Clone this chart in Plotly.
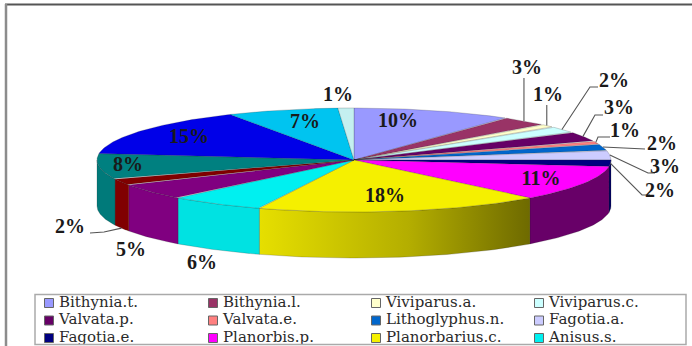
import numpy as np
import plotly.graph_objects as go

# Share of each taxon, clockwise from twelve o'clock
species = ["Bithynia.t.", "Bithynia.l.", "Viviparus.a.", "Viviparus.c.",
           "Valvata.p.", "Valvata.e.", "Lithoglyphus.n.", "Fagotia.a.",
           "Fagotia.e.", "Planorbis.p.", "Planorbarius.c.", "Anisus.s.",
           "Slice 13", "Slice 14", "Slice 15", "Slice 16", "Slice 17", "Slice 18"]
percent = [10, 3, 1, 2, 3, 1, 2, 3, 2, 11, 18, 6, 5, 2, 8, 15, 7, 1]
colors = ["#9999ff", "#993366", "#ffffcc", "#ccffff", "#660066", "#ff8080",
          "#0066cc", "#ccccff", "#000080", "#ff00ff", "#f5f000", "#00f0f0",
          "#800080", "#800000", "#008080", "#0000e8", "#00c4f0", "#c4f0f0"]
wall_colors = ["#7a7acc", "#7a2850", "#cccca0", "#a0cccc", "#520052", "#cc6666",
               "#0052a0", "#a0a0cc", "#000060", "#680068", "#c8c000", "#00e2e2",
               "#800080", "#800000", "#007a7a", "#0000c0", "#009cc0", "#a0c0c0"]
legend_count = 12

# Pie geometry, in page pixels
CX, CY, RX, RY, DEPTH = 354.0, 160.0, 257.0, 52.0, 46.0

# Text placement for the percentage labels, in page pixels
label_xy = [(398, 122), (527, 69), (548, 96), (614, 82), (619, 109), (625, 132),
            (662, 145), (665, 168), (660, 192), (541, 180), (385, 197), (202, 264),
            (131, 251), (70, 228), (128, 166), (189, 138), (305, 123), (338, 96)]
# Leader elbows for the labels that sit away from their slice
leaders = {1: [(528, 78)], 2: [(550, 105)], 3: [(590, 87), (598, 87)],
           4: [(595, 115), (603, 115)], 5: [(598, 137), (610, 137)],
           6: [(645, 149)], 7: [(648, 173), (655, 173)], 8: [(642, 195), (650, 195)],
           13: [(104, 232), (90, 233)]}
# Slices whose leader leaves from the lower edge of the side wall
wall_anchored = {13}

edges = np.cumsum([0] + percent) / sum(percent) * 2 * np.pi


def rim(theta, drop=0.0):
    return CX + RX * np.sin(theta), CY - RY * np.cos(theta) + drop


fig = go.Figure()
OUTLINE = dict(color="rgba(30,30,30,0.4)", width=0.5)

# Side walls: only the part of the rim facing the viewer is visible
for i, (a, b) in enumerate(zip(edges[:-1], edges[1:])):
    lo, hi = max(a, np.pi / 2), min(b, 3 * np.pi / 2)
    if hi <= lo:
        continue
    t = np.linspace(lo, hi, 60)
    x_top, y_top = rim(t)
    x_bot, y_bot = rim(t[::-1], DEPTH)
    extra = {}
    if species[i] == "Planorbarius.c.":
        extra["fillgradient"] = dict(
            type="horizontal",
            colorscale=[[0, "#e6df00"], [0.55, "#b4ae00"], [1, "#6e6a00"]],
        )
    fig.add_trace(go.Scatter(
        x=np.r_[x_top, x_bot, x_top[0]], y=np.r_[y_top, y_bot, y_top[0]],
        mode="lines", fill="toself", fillcolor=wall_colors[i], line=OUTLINE,
        hoverinfo="skip", showlegend=False, **extra))

# Top face
for i, (a, b) in enumerate(zip(edges[:-1], edges[1:])):
    t = np.linspace(a, b, 80)
    x_arc, y_arc = rim(t)
    fig.add_trace(go.Scatter(
        x=np.r_[CX, x_arc, CX], y=np.r_[CY, y_arc, CY],
        mode="lines", fill="toself", fillcolor=colors[i], line=OUTLINE,
        name=species[i], text=f"{percent[i]}%", hoverinfo="name+text", showlegend=False))

# Leader lines start on the rim at the middle of their slice
mids = (edges[:-1] + edges[1:]) / 2
for i, bends in leaders.items():
    sx, sy = rim(mids[i], DEPTH if i in wall_anchored else 0.0)
    if i in (1, 2):
        bends = [(float(sx), bends[0][1])]
    fig.add_trace(go.Scatter(
        x=[sx] + [p[0] for p in bends], y=[sy] + [p[1] for p in bends],
        mode="lines", line=dict(color="#555555", width=1.1),
        hoverinfo="skip", showlegend=False))

# Percentage labels
fig.add_trace(go.Scatter(
    x=[p[0] for p in label_xy], y=[p[1] for p in label_xy],
    text=[f"{v}%" for v in percent], mode="text", textposition="middle center",
    textfont=dict(family="Liberation Serif", size=20, color="#1a1a1a", weight="bold"),
    hoverinfo="skip", showlegend=False))

# Legend: four columns, three rows, boxed along the page bottom
COL_X = [49.0, 213.0, 376.0, 539.0]
ROW_Y = [303.0, 320.5, 338.0]
lx = [COL_X[k % 4] for k in range(legend_count)]
ly = [ROW_Y[k // 4] for k in range(legend_count)]
fig.add_trace(go.Scatter(
    x=lx, y=ly, mode="markers", hoverinfo="skip", showlegend=False,
    marker=dict(symbol="square", size=9, color=colors[:legend_count],
                line=dict(color="#666666", width=1))))
fig.add_trace(go.Scatter(
    x=[v + 10 for v in lx], y=ly, text=species[:legend_count], mode="text",
    textposition="middle right", hoverinfo="skip", showlegend=False,
    textfont=dict(family="DejaVu Serif", size=15, color="#2a2a2a")))

fig.update_layout(
    width=692, height=346, margin=dict(l=0, r=0, t=0, b=0),
    paper_bgcolor="white", plot_bgcolor="white", showlegend=False,
    xaxis=dict(range=[0, 692], visible=False, fixedrange=True),
    yaxis=dict(range=[346, 0], visible=False, fixedrange=True),
    shapes=[
        dict(type="rect", x0=35, x1=686, y0=294.5, y1=344.5,
             line=dict(color="#aaaaaa", width=1.5)),
        dict(type="line", x0=5, x1=692, y0=4.5, y1=4.5,
             line=dict(color="#555555", width=2)),
        dict(type="line", x0=6, x1=6, y0=4, y1=346,
             line=dict(color="#8c8c8c", width=2.5)),
    ],
)

fig.write_html("out.html")
